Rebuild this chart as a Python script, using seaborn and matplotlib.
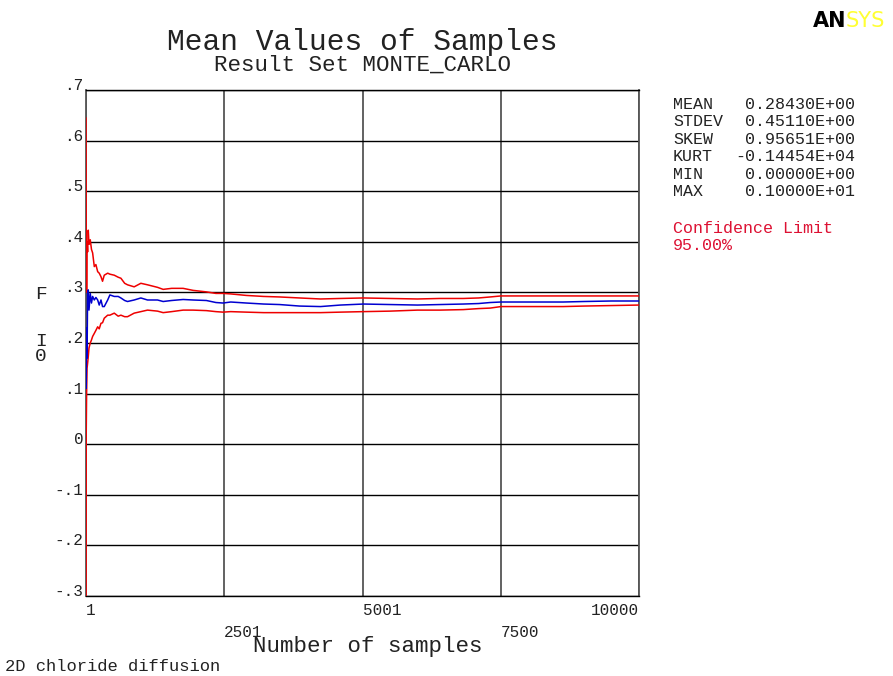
import numpy as np
import pandas as pd
import matplotlib
matplotlib.use("Agg")
import matplotlib.pyplot as plt
import seaborn as sns

# ===================== 数据 =====================
n_samples = [1, 5, 12, 20, 30, 42, 55, 78, 100, 121, 151, 180, 212, 240, 272, 300,
             331, 393, 433, 512, 583, 632, 700, 752, 872, 993, 1113, 1294, 1396, 1550,
             1757, 1937, 2178, 2350, 2478, 2618, 2900, 3214, 3500, 3863, 4242, 4600,
             5018, 5500, 5993, 6400, 6823, 7100, 7310, 7504, 7726, 8200, 8628, 9000,
             9500, 10000]
upper_limit = [0.645, 0.420, 0.300, 0.400, 0.380, 0.423, 0.395, 0.404, 0.385, 0.378,
               0.351, 0.355, 0.341, 0.338, 0.331, 0.322, 0.334, 0.338, 0.336, 0.334,
               0.330, 0.328, 0.318, 0.315, 0.311, 0.318, 0.315, 0.310, 0.306, 0.308,
               0.308, 0.304, 0.301, 0.298, 0.298, 0.297, 0.294, 0.292, 0.291, 0.289,
               0.287, 0.288, 0.289, 0.288, 0.287, 0.288, 0.288, 0.289, 0.291, 0.293,
               0.293, 0.293, 0.293, 0.293, 0.293, 0.293]
mean_value = [0.150, 0.110, 0.230, 0.170, 0.300, 0.305, 0.265, 0.298, 0.279, 0.292,
              0.285, 0.290, 0.285, 0.275, 0.285, 0.272, 0.272, 0.285, 0.295, 0.292,
              0.292, 0.289, 0.284, 0.282, 0.285, 0.289, 0.285, 0.285, 0.282, 0.284,
              0.286, 0.285, 0.284, 0.280, 0.279, 0.281, 0.279, 0.277, 0.276, 0.273,
              0.272, 0.275, 0.277, 0.276, 0.275, 0.276, 0.277, 0.278, 0.280, 0.281,
              0.281, 0.281, 0.281, 0.282, 0.283, 0.283]
lower_limit = [-0.500, 0.022, 0.100, 0.150, 0.160, 0.173, 0.190, 0.200, 0.206, 0.213,
               0.219, 0.225, 0.232, 0.228, 0.239, 0.240, 0.249, 0.255, 0.255, 0.259,
               0.253, 0.255, 0.252, 0.252, 0.259, 0.262, 0.265, 0.263, 0.260, 0.262,
               0.265, 0.265, 0.264, 0.262, 0.261, 0.262, 0.261, 0.260, 0.260, 0.260,
               0.260, 0.261, 0.262, 0.263, 0.265, 0.265, 0.266, 0.268, 0.269, 0.272,
               0.272, 0.272, 0.272, 0.273, 0.274, 0.275]

y_ticks = [-0.3, -0.2, -0.1, 0.0, 0.1, 0.2, 0.3, 0.4, 0.5, 0.6, 0.7]
y_tick_labels = ["-.3", "-.2", "-.1", "0", ".1", ".2", ".3", ".4", ".5", ".6", ".7"]
x_major = [1, 5001, 10000]
x_minor = [2501, 7500]

stat_names = ["MEAN", "STDEV", "SKEW", "KURT", "MIN", "MAX"]
stat_values = ["0.28430E+00", "0.45110E+00", "0.95651E+00", "-0.14454E+04",
               "0.00000E+00", "0.10000E+01"]

df = pd.DataFrame({"n": n_samples, "upper": upper_limit,
                   "mean": mean_value, "lower": lower_limit})

# ===================== 绘图 =====================
sns.set_style("white")
plt.rcParams["font.family"] = ["Liberation Mono", "DejaVu Sans Mono"]

W, H = 893, 676
fig = plt.figure(figsize=(W / 100, H / 100), dpi=100)
ax = fig.add_axes([86 / W, 1 - 596 / H, (639 - 86) / W, (596 - 90) / H])

RED = "#ee0000"
BLUE = "#0000d0"
sns.lineplot(data=df, x="n", y="upper", color=RED, lw=1.1, ax=ax, zorder=3)
sns.lineplot(data=df, x="n", y="lower", color=RED, lw=1.1, ax=ax, zorder=3)
sns.lineplot(data=df, x="n", y="mean", color=BLUE, lw=1.1, ax=ax, zorder=3)

ax.set_xlim(1, 10000)
ax.set_ylim(-0.3, 0.7)
ax.set_xlabel("")
ax.set_ylabel("")

ax.set_yticks(y_ticks, labels=y_tick_labels)
ax.set_xticks(x_major, labels=[str(v) for v in x_major])
ax.set_xticks(x_minor, labels=[str(v) for v in x_minor], minor=True)
ax.tick_params(axis="y", length=0, pad=2, labelsize=11.5, colors="#222222")
ax.tick_params(axis="x", which="major", length=0, pad=5, labelsize=11.5, colors="#222222")
ax.tick_params(axis="x", which="minor", length=0, pad=21, labelsize=11.5, colors="#222222")
for lbl in ax.get_yticklabels():
    lbl.set_verticalalignment("baseline")
for lbl in ax.get_xticklabels() + ax.get_xticklabels(minor=True):
    lbl.set_horizontalalignment("left")
ax.get_xticklabels()[-1].set_horizontalalignment("right")

ax.grid(True, axis="y", color="black", lw=1.0)
ax.grid(True, axis="x", which="both", color="#555555", lw=1.3)
ax.set_axisbelow(True)
for side in ["left", "right"]:
    ax.spines[side].set_color("#555555")
    ax.spines[side].set_linewidth(1.3)
for side in ["top", "bottom"]:
    ax.spines[side].set_color("black")
    ax.spines[side].set_linewidth(1.0)

# 标题
fig.text(362 / W, 1 - 50 / H, "Mean Values of Samples", ha="center", va="baseline",
         fontsize=21.3, color="#222222")
fig.text(362 / W, 1 - 71 / H, "Result Set MONTE_CARLO", ha="center", va="baseline",
         fontsize=16.2, color="#222222")

# 坐标轴标签
fig.text(368 / W, 1 - 652 / H, "Number of samples", ha="center", va="baseline",
         fontsize=16.2, color="#222222")
fig.text(41 / W, 1 - 295 / H, "F", ha="center", va="center", fontsize=14, color="#222222")
fig.text(41 / W, 1 - 349 / H, "I\n0", ha="center", va="center", fontsize=14,
         linespacing=0.9, color="#222222")
fig.text(5 / W, 1 - 671 / H, "2D chloride diffusion", ha="left", va="baseline",
         fontsize=12.3, color="#222222")

# 统计量
fig.text(673 / W, 1 - 97 / H, "\n".join(stat_names), ha="left", va="top",
         fontsize=12, linespacing=1.2, color="#222222")
fig.text(855 / W, 1 - 97 / H, "\n".join(stat_values), ha="right", va="top",
         fontsize=12, linespacing=1.2, color="#222222")
fig.text(673 / W, 1 - 221 / H, "Confidence Limit\n95.00%", ha="left", va="top",
         fontsize=12, linespacing=1.2, color="#dd1133")

# ANSYS 标志
fig.text(846 / W, 1 - 27 / H, "AN", ha="right", va="baseline", fontsize=15,
         fontweight="bold", family="DejaVu Sans", color="black")
fig.text(846 / W, 1 - 27 / H, "SYS", ha="left", va="baseline", fontsize=15,
         family="DejaVu Sans", color="#ffff33")

fig.savefig("out.png", dpi=100)
